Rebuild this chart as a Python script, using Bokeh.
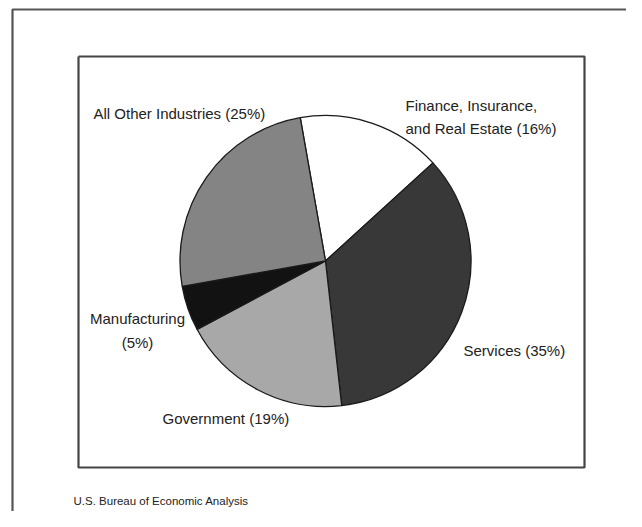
from math import pi
from bokeh.plotting import figure
from bokeh.models import Range1d, ColumnDataSource
from bokeh.core.properties import value
from bokeh.embed import file_html
from bokeh.resources import INLINE

# ---- data ----
categories = ["Finance, Insurance,\nand Real Estate", "Services", "Government",
              "Manufacturing", "All Other Industries"]
shares = [16, 35, 19, 5, 25]
label_texts = ["Finance, Insurance,\nand Real Estate (16%)", "Services (35%)",
               "Government (19%)", "Manufacturing\n(5%)", "All Other Industries  (25%)"]
source_note = "U.S. Bureau of Economic Analysis"

# ---- style ----
colors = ["#ffffff", "#383838", "#a8a8a8", "#121212", "#848484"]
W, H = 626, 511
FONT = "Liberation Sans"

p = figure(width=W, height=H, output_backend="svg", toolbar_location=None,
           x_range=Range1d(0, W), y_range=Range1d(0, H),
           min_border=0, background_fill_color="#ffffff", border_fill_color="#ffffff")
p.axis.visible = False
p.grid.visible = False
p.outline_line_color = None

def Y(sy):
    return H - sy

# outer frame (runs off right and bottom)
p.line([12, 12, 640], [Y(600), Y(9), Y(9)], line_color="#555555", line_width=2.2)
# inner box
p.line([78, 584, 584, 78, 78], [Y(56), Y(56), Y(467), Y(467), Y(56)],
       line_color="#444444", line_width=2.2)

# pie
total = sum(shares)
start0 = 100.0  # degrees, clockwise from here
starts, ends = [], []
cum = 0
for s in shares:
    a0 = start0 - cum / total * 360
    a1 = a0 - s / total * 360
    starts.append(a0 * pi / 180)
    ends.append(a1 * pi / 180)
    cum += s
src = ColumnDataSource(dict(x=[325] * len(shares), y=[Y(260.5)] * len(shares),
                            start=starts, end=ends, color=colors, cat=categories))
p.wedge(x="x", y="y", radius=145.5, start_angle="start", end_angle="end",
        direction="clock", fill_color="color", line_color="#1a1a1a",
        line_width=1.3, source=src)

# labels
lx = [405, 463, 162, 137, 93]
ly = [Y(116.5), Y(350), Y(418), Y(330), Y(113)]
align = ["left", "left", "left", "center", "left"]
lsrc = ColumnDataSource(dict(x=lx, y=ly, t=label_texts, a=align))
p.text(x="x", y="y", text="t", text_align="a", text_baseline="middle",
       text_font=value(FONT), text_font_size="15px", text_color="#222222",
       text_line_height=1.4, source=lsrc)

p.text(x=[73], y=[Y(500)], text=[source_note], text_baseline="middle",
       text_font=value(FONT), text_font_size="11.5px", text_color="#222222")

open("out.html", "w").write(file_html(p, INLINE))
